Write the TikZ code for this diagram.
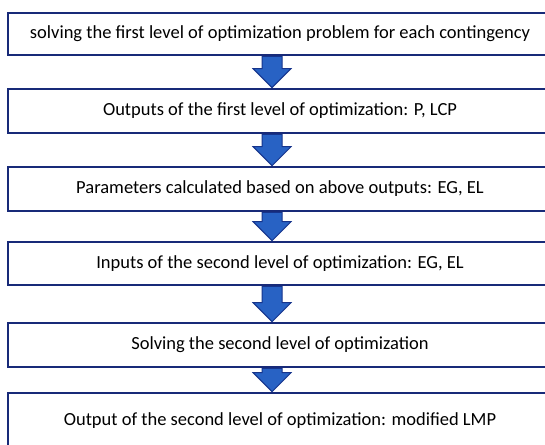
\documentclass[tikz,border=0pt]{standalone}
\usepackage{fontspec}
\setmainfont{Carlito}
\usetikzlibrary{calc}
\definecolor{boxline}{RGB}{24,42,120}
\definecolor{arrowfill}{RGB}{40,98,196}
\definecolor{arrowline}{RGB}{22,52,140}
\begin{document}
\begin{tikzpicture}[x=1pt,y=-1pt,
	stepbox/.style={draw=boxline,line width=2.6pt,fill=white,minimum width=544pt,inner sep=0pt,font=\fontsize{18.5}{22}\selectfont},
	blockarrow/.style={fill=arrowfill,draw=arrowline,line width=1pt,line join=miter}]
	\useasboundingbox (0,0) rectangle (545,444);
	\clip (0,0) rectangle (545,444);
	\fill[white] (0,0) rectangle (545,444);
	% boxes
	\node[stepbox,minimum height=42pt] (s1) at (280,34) {solving the first level of optimization problem for each contingency};
	\node[stepbox,minimum height=44pt] (s2) at (280,111) {Outputs of the first level of optimization: P, LCP};
	\node[stepbox,minimum height=44pt] (s3) at (280,189) {Parameters calculated based on above outputs: EG, EL};
	\node[stepbox,minimum height=43pt] (s4) at (280,263.5) {Inputs of the second level of optimization: EG, EL};
	\node[stepbox,minimum height=44pt] (s5) at (280,345) {Solving the second level of optimization};
	\node[stepbox,minimum height=56pt] (s6) at (280,421) {Output of the second level of optimization: modified LMP};
	% arrows
	\foreach \a/\b in {s1/s2,s2/s3,s3/s4,s4/s5,s5/s6}
		\draw[blockarrow] ($(\a.south)+(-18,0)$) -- ($(\a.south)+(2,0)$) -- ($(\b.north)+(2,-19)$) -- ($(\b.north)+(11,-19)$) -- ($(\b.north)+(-8,0)$) -- ($(\b.north)+(-27,-19)$) -- ($(\b.north)+(-18,-19)$) -- cycle;
\end{tikzpicture}
\end{document}
